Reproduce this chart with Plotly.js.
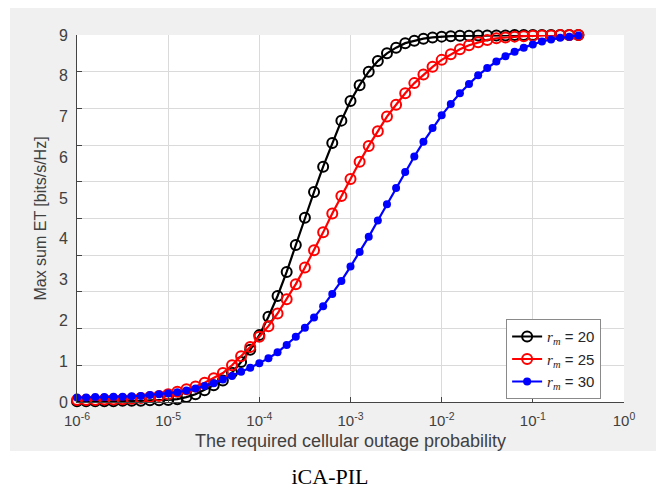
<!DOCTYPE html>
<html><head><meta charset="utf-8">
<script src="https://cdn.plot.ly/plotly-3.0.1.min.js"></script>
<style>
html,body{margin:0;padding:0;background:#fff;width:656px;height:489px;overflow:hidden;}
#bg{position:absolute;left:10px;top:8px;width:646px;height:443px;background:#f0f0f0;}
#chart{position:absolute;left:0;top:0;width:656px;height:489px;}
#cap{position:absolute;left:0;width:660px;top:464px;text-align:center;font-family:"Liberation Serif","Times New Roman",serif;font-size:22px;color:#000;line-height:26px;}
</style></head><body>
<div id="bg"></div><div id="chart"></div><div id="cap">iCA-PIL</div>
<script>
// Outage probability grid (x), 0.1-decade steps
const xVals = [
 1e-6,1.259e-6,1.585e-6,1.995e-6,2.512e-6,3.162e-6,3.981e-6,5.012e-6,6.310e-6,7.943e-6,
 1e-5,1.259e-5,1.585e-5,1.995e-5,2.512e-5,3.162e-5,3.981e-5,5.012e-5,6.310e-5,7.943e-5,
 1e-4,1.259e-4,1.585e-4,1.995e-4,2.512e-4,3.162e-4,3.981e-4,5.012e-4,6.310e-4,7.943e-4,
 1e-3,1.259e-3,1.585e-3,1.995e-3,2.512e-3,3.162e-3,3.981e-3,5.012e-3,6.310e-3,7.943e-3,
 1e-2,1.259e-2,1.585e-2,1.995e-2,2.512e-2,3.162e-2,3.981e-2,5.012e-2,6.310e-2,7.943e-2,
 1e-1,1.259e-1,1.585e-1,1.995e-1,2.512e-1,3.162e-1
];
const rm20 = [
 0.02,0.02,0.02,0.02,0.02,0.03,0.03,0.03,0.04,0.04,
 0.05,0.07,0.12,0.19,0.29,0.41,0.53,0.72,0.98,1.28,
 1.64,2.09,2.60,3.19,3.85,4.52,5.15,5.77,6.35,6.90,
 7.38,7.77,8.10,8.36,8.55,8.69,8.80,8.86,8.91,8.94,
 8.96,8.97,8.98,8.98,8.99,8.99,8.99,8.99,9.00,9.00,
 9.00,9.00,9.00,9.00,9.00,9.00
];
const rm25 = [
 0.05,0.05,0.05,0.06,0.06,0.07,0.08,0.10,0.12,0.15,
 0.19,0.25,0.31,0.38,0.47,0.58,0.71,0.90,1.12,1.35,
 1.60,1.86,2.17,2.52,2.89,3.30,3.72,4.16,4.62,5.05,
 5.47,5.89,6.28,6.64,7.00,7.29,7.57,7.82,8.03,8.22,
 8.39,8.53,8.65,8.75,8.82,8.88,8.92,8.94,8.96,8.97,
 8.98,8.99,8.99,9.00,9.00,9.00
];
const rm30 = [
 0.11,0.11,0.12,0.12,0.13,0.13,0.14,0.15,0.17,0.19,
 0.21,0.24,0.28,0.33,0.39,0.46,0.55,0.64,0.74,0.84,
 0.95,1.07,1.22,1.40,1.60,1.82,2.07,2.35,2.65,2.97,
 3.32,3.68,4.05,4.45,4.85,5.25,5.64,6.02,6.38,6.72,
 7.03,7.31,7.57,7.80,8.01,8.19,8.35,8.48,8.59,8.69,
 8.77,8.84,8.89,8.93,8.96,8.99
];
const seriesNames = [
 '<span style="font-family:Liberation Serif"><i>r</i><sub><i>m</i></sub></span> = 20',
 '<span style="font-family:Liberation Serif"><i>r</i><sub><i>m</i></sub></span> = 25',
 '<span style="font-family:Liberation Serif"><i>r</i><sub><i>m</i></sub></span> = 30'
];
const xTickVals = [1e-6,1e-5,1e-4,1e-3,1e-2,1e-1,1];
const xTickText = ['10<sup>-6</sup>','10<sup>-5</sup>','10<sup>-4</sup>','10<sup>-3</sup>','10<sup>-2</sup>','10<sup>-1</sup>','10<sup>0</sup>'];
const yLabelVals = [0,1,2,3,4,5,6,7,8,9];
const yLabelText = ['0','1','2','3','4','5','6','7','8','9'];
const yGridVals = [0,0.9,1.8,2.7,3.6,4.5,5.4,6.3,7.2,8.1,9];

const traces = [
 {x:xVals, y:rm20, name:seriesNames[0], mode:'lines+markers', cliponaxis:false,
  line:{color:'#000000', width:2.2},
  marker:{symbol:'circle-open', size:10, color:'#000000', line:{width:2}}},
 {x:xVals, y:rm25, name:seriesNames[1], mode:'lines+markers', cliponaxis:false,
  line:{color:'#ff0000', width:2.2},
  marker:{symbol:'circle-open', size:10, color:'#ff0000', line:{width:2}}},
 {x:xVals, y:rm30, name:seriesNames[2], mode:'lines+markers', cliponaxis:false,
  line:{color:'#0000ff', width:2.2},
  marker:{symbol:'circle', size:8, color:'#0000ff'}},
 {x:[], y:[], yaxis:'y2', showlegend:false, hoverinfo:'skip', mode:'markers'}
];

const layout = {
 width:656, height:489,
 margin:{l:76.5, r:32, t:35, b:87.3, pad:0},
 paper_bgcolor:'rgba(0,0,0,0)', plot_bgcolor:'#ffffff',
 font:{family:'"Liberation Sans", Arial, sans-serif', color:'#404040', size:15},
 showlegend:true,
 legend:{x:0.7845, y:0.2255, xanchor:'left', yanchor:'top', bgcolor:'#ffffff',
  bordercolor:'#8a8a8a', borderwidth:1, font:{size:15, color:'#262626'}, tracegroupgap:0},
 xaxis:{type:'log', range:[-6,0], tickmode:'array', tickvals:xTickVals, ticktext:xTickText,
  ticks:'inside', ticklen:5, tickcolor:'#444', showgrid:true, gridcolor:'#dadada', gridwidth:1,
  showline:true, linecolor:'#444', linewidth:1, zeroline:false, tickfont:{size:15},
  ticklabelstandoff:5,
  title:{text:'The required cellular outage probability', font:{size:18}, standoff:6}},
 yaxis:{range:[0,9], tickmode:'array', tickvals:yGridVals, showticklabels:false,
  ticks:'inside', ticklen:5, tickcolor:'#444', showgrid:true, gridcolor:'#dadada', gridwidth:1,
  showline:true, linecolor:'#444', linewidth:1, zeroline:false},
 yaxis2:{overlaying:'y', anchor:'x', side:'left', range:[0,9], tickmode:'array',
  tickvals:yLabelVals, ticktext:yLabelText, ticks:'', showgrid:false, showline:false,
  zeroline:false, ticklabelshift:4.5, ticklabelstandoff:8, tickfont:{size:16},
  title:{text:'Max sum ET [bits/s/Hz]', font:{size:16}, standoff:8}}
};
Plotly.newPlot('chart', traces, layout, {displayModeBar:false, staticPlot:true});
</script>
</body></html>
